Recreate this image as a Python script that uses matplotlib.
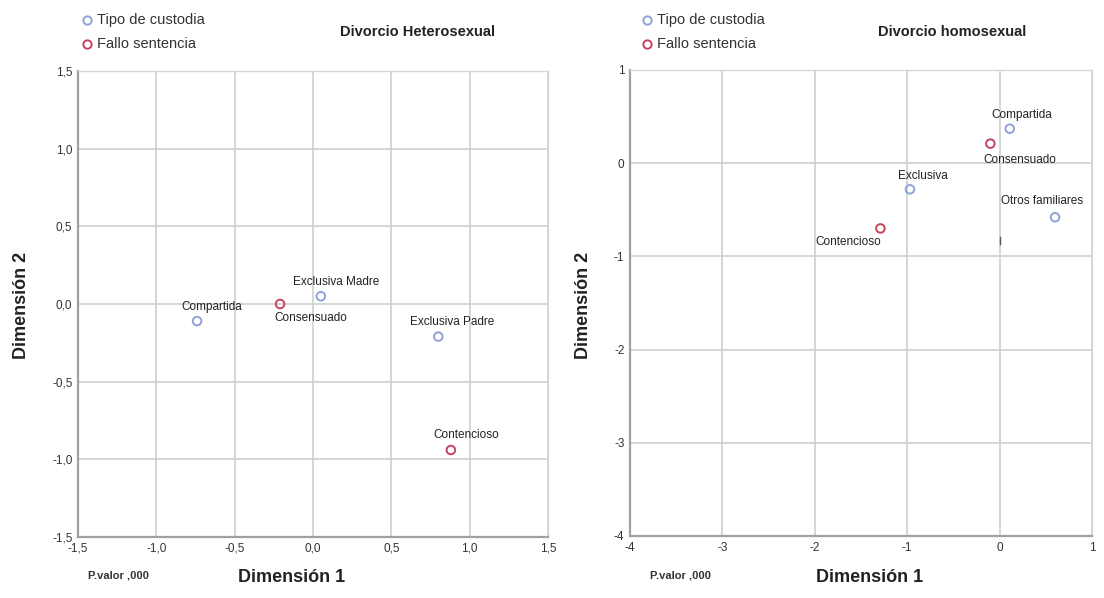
import matplotlib.pyplot as plt
from matplotlib.ticker import FuncFormatter

plt.rcParams['font.family'] = ['Liberation Sans', 'DejaVu Sans']

# Divorcio Heterosexual
het_custodia_names = ['Compartida', 'Exclusiva Madre', 'Exclusiva Padre']
het_custodia_x = [-0.74, 0.05, 0.80]
het_custodia_y = [-0.11, 0.05, -0.21]
het_fallo_names = ['Consensuado', 'Contencioso']
het_fallo_x = [-0.21, 0.88]
het_fallo_y = [0.0, -0.94]

# Divorcio homosexual
hom_custodia_names = ['Compartida', 'Exclusiva', 'Otros familiares']
hom_custodia_x = [0.11, -0.97, 0.60]
hom_custodia_y = [0.37, -0.28, -0.58]
hom_fallo_names = ['Consensuado', 'Contencioso']
hom_fallo_x = [-0.10, -1.29]
hom_fallo_y = [0.21, -0.70]

het_ticks = [-1.5, -1.0, -0.5, 0.0, 0.5, 1.0, 1.5]
hom_xticks = [-4, -3, -2, -1, 0, 1]
hom_yticks = [-4, -3, -2, -1, 0, 1]

blue = '#8fa3d6'
red = '#c4455f'
grid_col = '#cfcfcf'

fig = plt.figure(figsize=(11.04, 5.98), dpi=100)
ax1 = fig.add_axes([78/1104, 61/598, 470/1104, 466/598])
ax2 = fig.add_axes([630/1104, 62/598, 462/1104, 466/598])


def style_axes(ax, xticks, yticks, fmt):
    ax.set_xlim(xticks[0], xticks[-1])
    ax.set_ylim(yticks[0], yticks[-1])
    ax.set_xticks(xticks)
    ax.set_yticks(yticks)
    ax.xaxis.set_major_formatter(FuncFormatter(fmt))
    ax.yaxis.set_major_formatter(FuncFormatter(fmt))
    ax.grid(True, color=grid_col, linewidth=1.2)
    ax.set_axisbelow(True)
    for s in ax.spines.values():
        s.set_color('#d8d8d8')
        s.set_linewidth(1.0)
    ax.spines['left'].set_color('#a0a0a0')
    ax.spines['left'].set_linewidth(1.6)
    ax.spines['bottom'].set_color('#a0a0a0')
    ax.spines['bottom'].set_linewidth(1.6)
    ax.tick_params(length=0, labelsize=8.5, colors='#333333', pad=4)


def fmt_het(v, pos):
    return ('%.1f' % v).replace('.', ',')


def fmt_hom(v, pos):
    return '%d' % v


style_axes(ax1, het_ticks, het_ticks, fmt_het)
style_axes(ax2, hom_xticks, hom_yticks, fmt_hom)

mk = dict(marker='o', s=38, facecolors='none', linewidths=1.4, zorder=3)
for ax, cx, cy, fx, fy in [(ax1, het_custodia_x, het_custodia_y, het_fallo_x, het_fallo_y),
                           (ax2, hom_custodia_x, hom_custodia_y, hom_fallo_x, hom_fallo_y)]:
    ax.scatter(cx, cy, edgecolors=blue, **mk)
    ax.scatter(fx, fy, edgecolors=red, **mk)

lab = dict(fontsize=8.5, color='#222222', ha='center')
# label offsets in points relative to the point
het_offsets = {'Compartida': (10.5, 10), 'Exclusiva Madre': (11, 10), 'Exclusiva Padre': (10, 10.5),
               'Consensuado': (22, -10), 'Contencioso': (11, 11)}
for names, xs, ys in [(het_custodia_names, het_custodia_x, het_custodia_y),
                      (het_fallo_names, het_fallo_x, het_fallo_y)]:
    for n, x, y in zip(names, xs, ys):
        dx, dy = het_offsets[n]
        ax1.annotate(n, (x, y), xytext=(dx, dy), textcoords='offset points',
                     va='center', **lab)

hom_offsets = {'Compartida': (8.6, 10), 'Exclusiva': (9.6, 9.5), 'Otros familiares': (-9, 12),
               'Consensuado': (21, -11.5), 'Contencioso': (-23, -10)}
for names, xs, ys in [(hom_custodia_names, hom_custodia_x, hom_custodia_y),
                      (hom_fallo_names, hom_fallo_x, hom_fallo_y)]:
    for n, x, y in zip(names, xs, ys):
        dx, dy = hom_offsets[n]
        ax2.annotate(n, (x, y), xytext=(dx, dy), textcoords='offset points',
                     va='center', **lab)

# small tick artifact near origin on right chart
ax2.plot([0, 0], [-0.79, -0.87], color='#555555', linewidth=1, zorder=2)

# legends, titles and axis labels
for x0, title, tx in [(87, 'Divorcio Heterosexual', 418), (647, 'Divorcio homosexual', 952)]:
    fig.text(tx/1104, 1 - 32/598, title, fontsize=10.5, fontweight='bold',
             color='#222222', ha='center', va='center')
    fig.scatter = None
    for yy, col, txt in [(20, blue, 'Tipo de custodia'), (44, red, 'Fallo sentencia')]:
        fig.add_artist(plt.Line2D([x0/1104], [1 - yy/598], marker='o', markersize=6,
                                  markerfacecolor='none', markeredgecolor=col,
                                  markeredgewidth=1.4, linestyle='none'))
        fig.text((x0 + 10)/1104, 1 - yy/598, txt, fontsize=10.5,
                 color='#333333', ha='left', va='center')

for px, cx, ylx in [(88, 292, 22), (650, 870, 584)]:
    fig.text(px/1104, 1 - 576/598, 'P.valor ,000', fontsize=8, fontweight='bold',
             color='#333333', ha='left', va='center')
    fig.text(cx/1104, 1 - 578/598, 'Dimensión 1', fontsize=13, fontweight='bold',
             color='#222222', ha='center', va='center')
    fig.text(ylx/1104, 1 - 305/598, 'Dimensión 2', fontsize=13, fontweight='bold',
             color='#222222', ha='center', va='center', rotation=90)

fig.savefig('out.png', dpi=100)
